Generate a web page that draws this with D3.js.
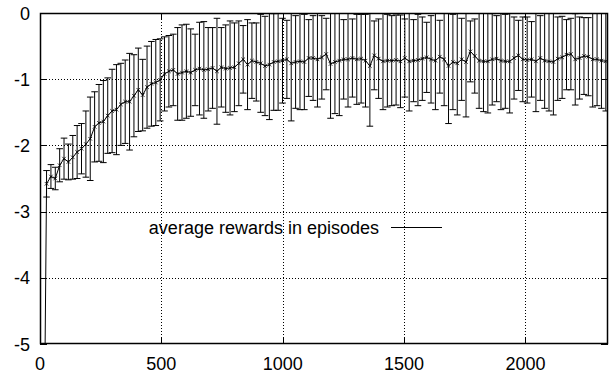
<!DOCTYPE html>
<html>
<head>
<meta charset="utf-8">
<script src="https://cdn.jsdelivr.net/npm/d3@7"></script>
<style>
body { margin: 0; background: #fff; }
text { font-family: "Liberation Sans", Arial, Helvetica, sans-serif; font-size: 18px; fill: #000; }
</style>
</head>
<body>
<div id="chart"></div>
<script>
// episode grid (one sample every 18 episodes)
var episodes = d3.range(9, 2332, 18);

// mean reward per sample
var avgReward = [
  -10.00, -2.58, -2.47, -2.50, -2.30, -2.20, -2.25, -2.18, -2.10, -2.05,
  -1.98, -1.90, -1.72, -1.66, -1.64, -1.55, -1.48, -1.46, -1.38, -1.34,
  -1.34, -1.25, -1.16, -1.24, -1.12, -1.07, -1.05, -1.01, -0.92, -0.88,
  -0.86, -0.92, -0.90, -0.88, -0.90, -0.86, -0.84, -0.86, -0.85, -0.83,
  -0.88, -0.82, -0.84, -0.83, -0.82, -0.76, -0.70, -0.78, -0.72, -0.74,
  -0.76, -0.80, -0.78, -0.74, -0.73, -0.72, -0.70, -0.76, -0.74, -0.73,
  -0.74, -0.68, -0.68, -0.70, -0.67, -0.62, -0.77, -0.74, -0.72, -0.70,
  -0.70, -0.68, -0.70, -0.69, -0.72, -0.80, -0.64, -0.69, -0.73, -0.72,
  -0.72, -0.71, -0.73, -0.68, -0.73, -0.72, -0.71, -0.69, -0.67, -0.70,
  -0.72, -0.66, -0.70, -0.80, -0.74, -0.76, -0.70, -0.74, -0.58, -0.65,
  -0.72, -0.73, -0.73, -0.70, -0.69, -0.72, -0.73, -0.73, -0.68, -0.64,
  -0.70, -0.71, -0.70, -0.73, -0.68, -0.72, -0.73, -0.74, -0.69, -0.67,
  -0.63, -0.62, -0.70, -0.68, -0.65, -0.66, -0.70, -0.70, -0.72, -0.73
];

// standard deviation (error bar half length)
var stdReward = [
  0.50, 0.20, 0.18, 0.17, 0.25, 0.31, 0.27, 0.33, 0.40, 0.38,
  0.50, 0.63, 0.53, 0.58, 0.62, 0.57, 0.63, 0.68, 0.62, 0.63,
  0.73, 0.62, 0.63, 0.54, 0.62, 0.64, 0.65, 0.62, 0.56, 0.54,
  0.54, 0.70, 0.72, 0.71, 0.66, 0.54, 0.70, 0.73, 0.63, 0.61,
  0.80, 0.60, 0.66, 0.71, 0.67, 0.64, 0.51, 0.68, 0.57, 0.59,
  0.74, 0.75, 0.83, 0.73, 0.74, 0.64, 0.59, 0.87, 0.70, 0.73,
  0.72, 0.58, 0.64, 0.72, 0.63, 0.54, 0.82, 0.78, 0.83, 0.60,
  0.72, 0.59, 0.68, 0.67, 0.70, 0.91, 0.52, 0.60, 0.73, 0.70,
  0.68, 0.68, 0.70, 0.59, 0.75, 0.62, 0.69, 0.63, 0.53, 0.66,
  0.74, 0.55, 0.70, 0.87, 0.72, 0.78, 0.62, 0.83, 0.46, 0.56,
  0.72, 0.76, 0.78, 0.69, 0.65, 0.74, 0.71, 0.78, 0.62, 0.53,
  0.64, 0.65, 0.57, 0.76, 0.64, 0.72, 0.75, 0.80, 0.63, 0.62,
  0.53, 0.54, 0.69, 0.62, 0.58, 0.59, 0.72, 0.70, 0.72, 0.75
];

var xTicks = [0, 500, 1000, 1500, 2000];
var yTicks = [0, -1, -2, -3, -4, -5];
var legendLabel = "average rewards in episodes";

var width = 616, height = 375;
var margin = {top: 13, right: 8, bottom: 31, left: 40};
var plotW = width - margin.left - margin.right;
var plotH = height - margin.top - margin.bottom;

var svg = d3.select("#chart").append("svg")
    .attr("width", width)
    .attr("height", height);

var xScale = d3.scaleLinear().domain([0, 2340]).range([margin.left, margin.left + plotW]);
var yScale = d3.scaleLinear().domain([-5, 0]).range([margin.top + plotH, margin.top]);

var data = episodes.map(function(ep, i){
    return {ep: ep, mean: avgReward[i], std: stdReward[i]};
});

svg.append("clipPath").attr("id", "plotClip")
  .append("rect")
    .attr("x", margin.left).attr("y", margin.top)
    .attr("width", plotW).attr("height", plotH);

//dotted grid
var grid = svg.append("g").attr("stroke", "#000").attr("stroke-width", 1)
    .attr("stroke-dasharray", "1,2");
grid.selectAll(".gx").data(xTicks.filter(function(d){ return d > 0; }))
  .enter().append("line")
    .attr("x1", function(d){ return Math.round(xScale(d)) + 0.5; })
    .attr("x2", function(d){ return Math.round(xScale(d)) + 0.5; })
    .attr("y1", margin.top).attr("y2", margin.top + plotH);
grid.selectAll(".gy").data(yTicks.filter(function(d){ return d < 0 && d > -5; }))
  .enter().append("line")
    .attr("y1", function(d){ return Math.round(yScale(d)) + 0.5; })
    .attr("y2", function(d){ return Math.round(yScale(d)) + 0.5; })
    .attr("x1", margin.left).attr("x2", margin.left + plotW);

// tick marks on all four sides, pointing inward
var tickLen = 7;
var ticks = svg.append("g").attr("stroke", "#000").attr("stroke-width", 1);
xTicks.forEach(function(t){
    var x = Math.round(xScale(t)) + 0.5;
    ticks.append("line").attr("x1", x).attr("x2", x)
        .attr("y1", margin.top + plotH).attr("y2", margin.top + plotH - tickLen);
    ticks.append("line").attr("x1", x).attr("x2", x)
        .attr("y1", margin.top).attr("y2", margin.top + tickLen);
});
yTicks.forEach(function(t){
    var y = Math.round(yScale(t)) + 0.5;
    ticks.append("line").attr("y1", y).attr("y2", y)
        .attr("x1", margin.left).attr("x2", margin.left + tickLen);
    ticks.append("line").attr("y1", y).attr("y2", y)
        .attr("x1", margin.left + plotW).attr("x2", margin.left + plotW - tickLen);
});

// tick labels
svg.selectAll(".xlab").data(xTicks).enter().append("text")
    .attr("x", function(d){ return xScale(d); })
    .attr("y", 370)
    .attr("text-anchor", "middle")
    .text(function(d){ return d; });
svg.selectAll(".ylab").data(yTicks).enter().append("text")
    .attr("x", 30)
    .attr("y", function(d){ return yScale(d) + 6.5; })
    .attr("text-anchor", "end")
    .text(function(d){ return d; });

// data, clipped to the frame
var plot = svg.append("g").attr("clip-path", "url(#plotClip)");
var capW = 3.3;

var bars = plot.append("g").attr("stroke", "#000").attr("stroke-width", 1).attr("fill", "none");
bars.selectAll(".bar").data(data).enter().append("path")
    .attr("d", function(d){
        var x = xScale(d.ep);
        var y1 = yScale(d.mean - d.std), y2 = yScale(d.mean + d.std);
        return "M" + x + "," + y1 + "V" + y2 +
               "M" + (x - capW) + "," + y1 + "H" + (x + capW) +
               "M" + (x - capW) + "," + y2 + "H" + (x + capW);
    });

var line = d3.line()
    .x(function(d){ return xScale(d.ep); })
    .y(function(d){ return yScale(d.mean); });
plot.append("path").datum(data)
    .attr("d", line)
    .attr("fill", "none").attr("stroke", "#000").attr("stroke-width", 1);

// small point markers on the mean line
plot.append("g").attr("stroke", "#000").attr("stroke-width", 0.8)
  .selectAll(".pt").data(data).enter().append("path")
    .attr("d", function(d){
        var x = xScale(d.ep), y = yScale(d.mean), s = 1.8;
        return "M" + (x - s) + "," + (y - s) + "L" + (x + s) + "," + (y + s) +
               "M" + (x - s) + "," + (y + s) + "L" + (x + s) + "," + (y - s);
    });

// frame
svg.append("rect")
    .attr("x", margin.left + 0.5).attr("y", margin.top + 0.5)
    .attr("width", plotW - 1).attr("height", plotH - 1)
    .attr("fill", "none").attr("stroke", "#000").attr("stroke-width", 1.5);

// key
svg.append("text")
    .attr("x", 379).attr("y", 234)
    .attr("text-anchor", "end")
    .text(legendLabel);
svg.append("line")
    .attr("x1", 391).attr("x2", 442)
    .attr("y1", 227.5).attr("y2", 227.5)
    .attr("stroke", "#000").attr("stroke-width", 1);
</script>
</body>
</html>
